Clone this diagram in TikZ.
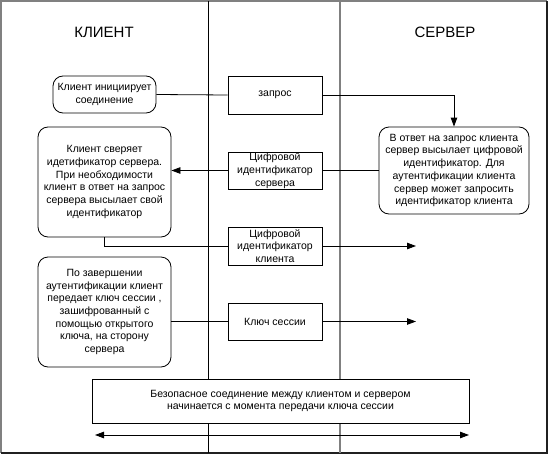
\documentclass[tikz,border=0pt]{standalone}
\usepackage{fontspec}
\setmainfont{Liberation Sans}
\usetikzlibrary{arrows.meta}
\definecolor{framegray}{HTML}{808080}
\definecolor{framedark}{HTML}{202020}
\tikzset{
  lbl/.style={font=\fontsize{10.5}{12.7}\selectfont, align=center, inner sep=0pt, fill=white},
  roundbox/.style={lbl, draw=black, line width=0.8pt, rounded corners=10pt},
  msgbox/.style={lbl, draw=black, line width=0.8pt, minimum width=94pt},
  title/.style={font=\fontsize{15}{18}\selectfont, inner sep=0pt},
  conn/.style={draw=black, line width=0.8pt},
  arr/.style={conn, -{Triangle[length=9pt,width=6.5pt]}},
  darr/.style={conn, {Triangle[length=9pt,width=6.5pt]}-{Triangle[length=9pt,width=6.5pt]}},
}
\begin{document}
\begin{tikzpicture}[x=1pt,y=-1pt]
\useasboundingbox (0,0) rectangle (549,455);
% frame and lanes
\draw[framegray, line width=2pt] (1,453) -- (1,1) -- (547,1);
\draw[framedark, line width=2pt] (547,1) -- (547,453) -- (1,453);
\draw[black, line width=1pt] (208,1) -- (208,453);
\draw[framegray, line width=1.5pt] (340,1) -- (340,453);
% titles
\node[title] (tc) at (104,32) {КЛИЕНТ};
\node[title] (ts) at (445,32) {СЕРВЕР};
% boxes
\node[roundbox, minimum width=103pt, minimum height=37pt] (b1) at (104.5,94.5) {Клиент инициирует\\соединение};
\node[msgbox, minimum height=38pt] (q1) at (275,95) {запрос};
\node[roundbox, minimum width=150pt, minimum height=87pt] (s1) at (454,170.5) {В ответ на запрос клиента\\сервер высылает цифровой\\идентификатор. Для\\аутентификации клиента\\сервер может запросить\\идентификатор клиента};
\node[roundbox, minimum width=133pt, minimum height=110pt] (b2) at (104.5,182) {Клиент сверяет\\идетификатор сервера.\\При необходимости\\клиент в ответ на запрос\\сервера высылает свой\\идентификатор};
\node[msgbox, minimum height=37pt] (q2) at (275,170.5) {Цифровой\\идентификатор\\сервера};
\node[msgbox, minimum height=38pt] (q3) at (275,246) {Цифровой\\идентификатор\\клиента};
\node[roundbox, minimum width=133pt, minimum height=110pt] (b3) at (104.5,312) {По завершении\\аутентификации клиент\\передает ключ сессии ,\\зашифрованный с\\помощью открытого\\ключа, на сторону\\сервера};
\node[msgbox, minimum height=37pt] (q4) at (275,321.5) {Ключ сессии};
\node[lbl, draw=black, line width=0.8pt, minimum width=377pt, minimum height=44pt] (bt) at (280.5,401) {Безопасное соединение между клиентом и сервером\\начинается с момента передачи ключа сессии};
% free ends
\coordinate (e3) at (416,246);
\coordinate (e4) at (416,321.5);
\coordinate (dl) at (95,435);
\coordinate (dr) at (469,435);
% connectors
\draw[conn] (b1.east) -- (q1.west);
\draw[arr] (q1.east) -| (s1.north);
\draw[conn] (s1.west |- q2.east) -- (q2.east);
\draw[arr] (q2.west) -- (q2.west -| b2.east);
\draw[conn] (b2.south) |- (q3.west);
\draw[arr] (q3.east) -- (e3);
\draw[conn] (q4.west -| b3.east) -- (q4.west);
\draw[arr] (q4.east) -- (e4);
\draw[darr] (dl) -- (dr);
\end{tikzpicture}
\end{document}
